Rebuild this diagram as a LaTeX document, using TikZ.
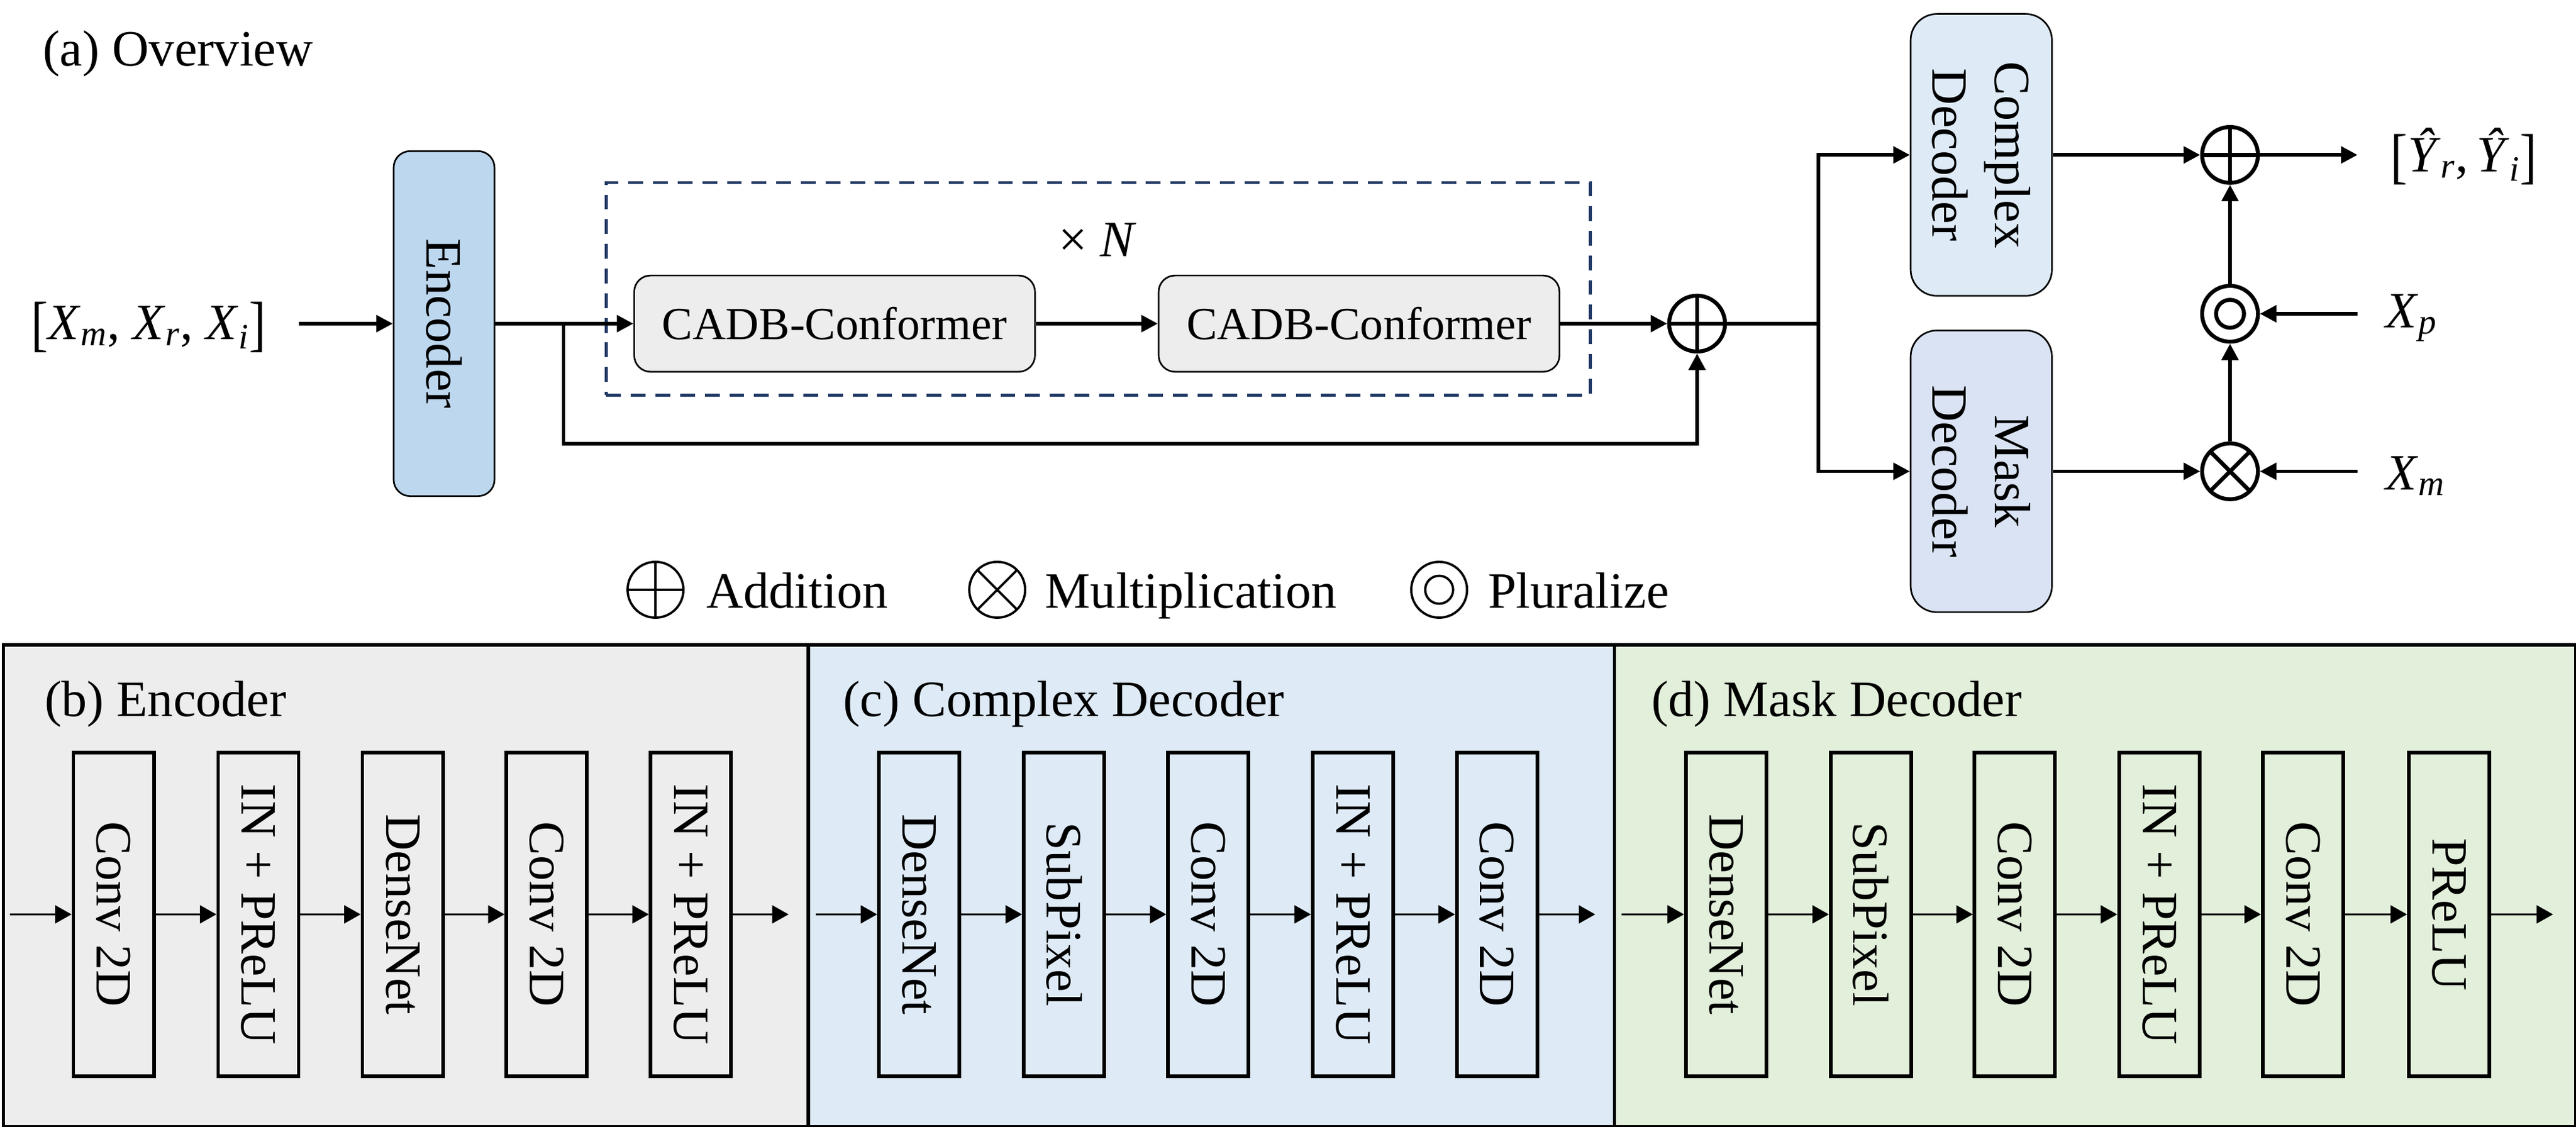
\documentclass[tikz,border=0pt]{standalone}
\usepackage{fontspec}
\setmainfont{Liberation Serif}
\usetikzlibrary{arrows.meta,calc}
\definecolor{encblue}{HTML}{BDD7EE}
\definecolor{cdblue}{HTML}{DEEBF7}
\definecolor{mdblue}{HTML}{DAE3F3}
\definecolor{cadbgray}{HTML}{EDEDED}
\definecolor{panelb}{HTML}{EDEDED}
\definecolor{panelc}{HTML}{DEEBF7}
\definecolor{paneld}{HTML}{E2EFDA}
\definecolor{dashblue}{HTML}{203864}
\newcommand{\vx}[2]{\textit{#1}\textsubscript{\textit{#2}}}
\newcommand{\lbr}{\raisebox{-3pt}{\scalebox{1}[1.2]{[}}}
\newcommand{\rbr}{\raisebox{-3pt}{\scalebox{1}[1.2]{]}}}
\begin{document}
\begin{tikzpicture}[x=1pt,y=-1pt,
  font=\fontsize{31}{38}\selectfont,
  arr/.style={-{Triangle[length=10pt,width=10pt]},line width=2.2pt},
  thinarr/.style={-{Triangle[length=10pt,width=11pt]},line width=1pt},
  encbox/.style={draw,line width=1pt,rounded corners=10pt,rotate=-90,inner sep=0pt,align=center},
  cadb/.style={draw,line width=1pt,rounded corners=10pt,fill=cadbgray,inner sep=0pt,
    minimum width=244pt,minimum height=58.6pt,font=\fontsize{28}{34}\selectfont},
  blkbox/.style={draw,line width=2.2pt,rotate=-90,minimum width=197pt,minimum height=49pt,inner sep=0pt},
  panel/.style={draw,line width=2pt,anchor=north west,inner sep=0pt,minimum height=293.5pt},
  plusop/.style={circle,draw,line width=#1,minimum size=34pt,inner sep=0pt,
    path picture={\draw[line width=#1] (path picture bounding box.north) -- (path picture bounding box.south)
      (path picture bounding box.west) -- (path picture bounding box.east);}},
  timesop/.style={circle,draw,line width=#1,minimum size=34pt,inner sep=0pt,
    path picture={\draw[line width=#1] (path picture bounding box.north west) -- (path picture bounding box.south east)
      (path picture bounding box.north east) -- (path picture bounding box.south west);}},
  pluop/.style={circle,draw,line width=#1,minimum size=34pt,inner sep=0pt,
    path picture={\draw[line width=#1] (path picture bounding box.center) circle[radius=8.5pt];}},
  txt/.style={inner sep=0pt}
]
\useasboundingbox (0,0) rectangle (1568,686);

% ---------- (a) overview ----------
\node[txt,anchor=base west] (ta) at (26,40) {(a) Overview};

\node[txt,anchor=base] (inp) at (90.5,206.5) {\lbr\vx{X}{m}, \vx{X}{r}, \vx{X}{i}\rbr};
\coordinate (inR) at (182,197);

\node[encbox,fill=encblue,minimum width=210pt,minimum height=61.4pt] (enc) at (270.3,197) {Encoder};

\node[draw=dashblue,line width=1.6pt,dash pattern=on 9pt off 6pt,minimum width=599pt,minimum height=129.5pt,inner sep=0pt] (rep) at (668.5,175.75) {};
\node[txt,anchor=base] (tn) at (668,156) {× \textit{N}};

\node[cadb] (c1) at (508,197) {CADB-Conformer};
\node[cadb] (c2) at (827.25,197) {CADB-Conformer};

\node[plusop=2.4pt] (plus1) at (1033,197) {};

\node[encbox,fill=cdblue,rounded corners=16pt,minimum width=171.6pt,minimum height=86pt] (cd) at (1206,94.3) {Complex\\Decoder};
\node[encbox,fill=mdblue,rounded corners=16pt,minimum width=171.5pt,minimum height=86pt] (md) at (1206,286.9) {Mask\\Decoder};

\node[plusop=2.4pt] (plus2) at (1357.4,94.3) {};
\node[pluop=2.4pt] (plural) at (1357.4,191) {};
\node[timesop=2.4pt] (mult) at (1357.4,286.9) {};

\coordinate (outR) at (1435,94.3);
\coordinate (xpL) at (1435,191);
\coordinate (xmL) at (1435,286.9);
\node[txt,anchor=base west] (yout) at (1455,104.5) {\lbr\vx{Ŷ}{r},\,\vx{Ŷ}{i}\rbr};
\node[txt,anchor=base west] (xp) at (1452,199.5) {\vx{X}{p}};
\node[txt,anchor=base west] (xm) at (1452,298) {\vx{X}{m}};

\draw[arr] (inR) -- (enc);
\draw[arr] (enc) -- (c1);
\draw[arr] (c1) -- (c2);
\draw[arr] (c2) -- (plus1);
\coordinate (br1) at (343,197);
\draw[arr] (br1) -- ++(0,73) -| (plus1);
\coordinate (br2) at (1107,197);
\draw[line width=2.2pt] (plus1) -- (br2);
\draw[arr] (br2) |- (cd);
\draw[arr] (br2) |- (md);
\draw[arr] (cd) -- (plus2);
\draw[arr] (md) -- (mult);
\draw[arr] (mult) -- (plural);
\draw[arr] (plural) -- (plus2);
\draw[arr] (plus2) -- (outR);
\draw[arr] (xpL) -- (plural);
\draw[arr] (xmL) -- (mult);

% ---------- legend ----------
\node[plusop=1.4pt] (lgadd) at (399,359) {};
\node[txt,anchor=base west] (lgaddt) at (430,370) {Addition};
\node[timesop=1.4pt] (lgmul) at (607,359) {};
\node[txt,anchor=base west] (lgmult) at (636,370) {Multiplication};
\node[pluop=1.4pt] (lgplu) at (876,359) {};
\node[txt,anchor=base west] (lgplut) at (905.5,370) {Pluralize};

% ---------- bottom panels ----------
\node[panel,fill=panelb,minimum width=490pt] (pb) at (1,391.5) {};
\node[panel,fill=panelc,minimum width=490.6pt] (pc) at (491,391.5) {};
\node[panel,fill=paneld,minimum width=585.4pt] (pd) at (981.6,391.5) {};

\node[txt,anchor=base west] (lb) at (27,436) {(b) Encoder};
\node[txt,anchor=base west] (lc) at (513,436) {(c) Complex Decoder};
\node[txt,anchor=base west] (ld) at (1005,436) {(d) Mask Decoder};

\foreach \x/\t [count=\i] in {69.15/Conv 2D, 157.3/IN + PReLU, 245.1/DenseNet, 332.7/Conv 2D, 420.5/IN + PReLU}
  \node[blkbox] (b\i) at (\x,556.6) {\t};
\foreach \x/\t [count=\i] in {559.5/DenseNet, 647.7/SubPixel, 735.5/Conv 2D, 823.5/IN + PReLU, 911.2/Conv 2D}
  \node[blkbox] (c\i) at (\x,556.6) {\t};
\foreach \x/\t [count=\i] in {1050.6/DenseNet, 1138.8/SubPixel, 1226.4/Conv 2D, 1314.3/IN + PReLU, 1401.8/Conv 2D, 1490.7/PReLU}
  \node[blkbox] (d\i) at (\x,556.6) {\t};

\coordinate (bin) at (6,556.6);
\coordinate (bout) at (480,556.6);
\coordinate (cin) at (496.6,556.6);
\coordinate (cout) at (971,556.6);
\coordinate (din) at (987,556.6);
\coordinate (dout) at (1554,556.6);

\draw[thinarr] (bin) -- (b1);
\foreach \a/\b in {1/2,2/3,3/4,4/5} \draw[thinarr] (b\a) -- (b\b);
\draw[thinarr] (b5) -- (bout);
\draw[thinarr] (cin) -- (c1);
\foreach \a/\b in {1/2,2/3,3/4,4/5} \draw[thinarr] (c\a) -- (c\b);
\draw[thinarr] (c5) -- (cout);
\draw[thinarr] (din) -- (d1);
\foreach \a/\b in {1/2,2/3,3/4,4/5,5/6} \draw[thinarr] (d\a) -- (d\b);
\draw[thinarr] (d6) -- (dout);
\end{tikzpicture}
\end{document}
